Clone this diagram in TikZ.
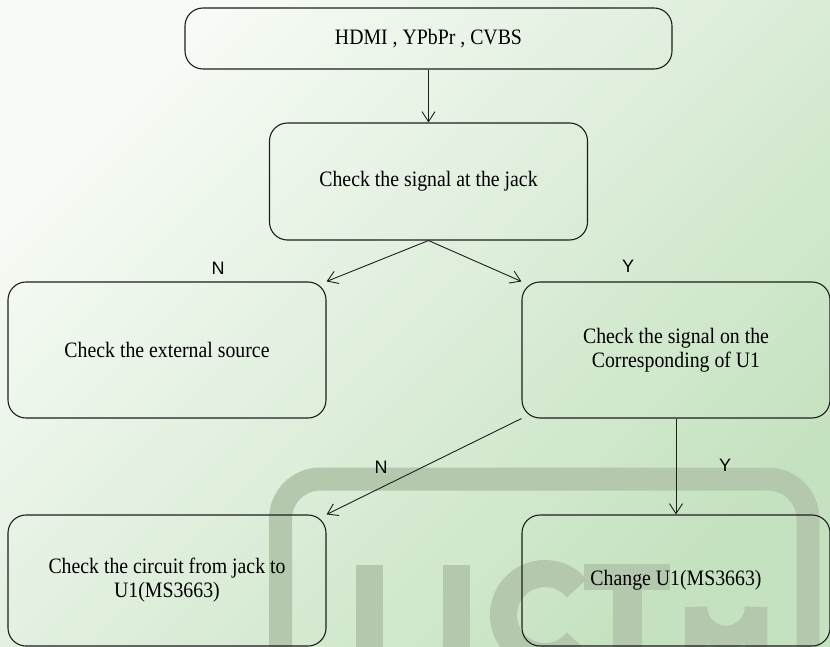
\documentclass[tikz,border=0pt]{standalone}
\usepackage{fontspec}
\setmainfont{Liberation Serif}[FakeStretch=0.9]
\newfontfamily\ynfont{Liberation Sans}
\usepackage{tikz}
\usetikzlibrary{arrows.meta}

\definecolor{bgtl}{RGB}{247,251,246}
\definecolor{bgbr}{RGB}{197,226,192}
\definecolor{wmark}{RGB}{180,200,174}
\definecolor{edge}{RGB}{30,30,30}

\tikzset{
  box/.style={draw=edge, line width=1.1pt, rounded corners=18pt, align=center,
    inner sep=0pt, font=\fontsize{22}{24}\selectfont},
  flow/.style={draw=edge, line width=0.9pt, -{Straight Barb[length=10pt,width=13pt]}},
  yn/.style={font=\ynfont\fontsize{18}{18}\selectfont},
  wm/.style={draw=wmark, line width=27pt},
}

\begin{document}
\begin{tikzpicture}[x=1pt,y=-1pt]
    \useasboundingbox (0,0) rectangle (830,647);
    \clip (0,0) rectangle (830,647);
    % background
    \shade[left color=bgtl, right color=bgbr, shading angle=45] (0,0) rectangle (830,647);
    % watermark
    \draw[wm, line width=23pt, rounded corners=40pt] (280.5,700) |- (808,479) -- (808,700);
    \draw[wm] (369.5,565) -- (369.5,700);
    \draw[wm] (456.5,565) -- (456.5,700);
    \draw[wm] ([shift={(40:41.5)}]545,615) arc[start angle=40, end angle=320, radius=41.5];
    \fill[wmark] (584,564) rectangle (670,590);
    \fill[wmark] (613,590) rectangle (642,660);
    \draw[wm, line width=22.5pt] (696,660) -- (696,607) arc[start angle=180, end angle=0, radius=30] -- (756,660);

    % boxes
    \node[box, minimum width=487pt, minimum height=61pt] (src) at (428.5,38.5) {HDMI , YPbPr , CVBS};
    \node[box, minimum width=318pt, minimum height=117pt] (chk) at (428.5,181.5) {Check the signal at the jack};
    \node[box, minimum width=318pt, minimum height=136pt] (ext) at (167,350) {Check the external source};
    \node[box, minimum width=308pt, minimum height=136pt] (corr) at (676,350) {Check the signal on the\\Corresponding of U1};
    \node[box, minimum width=318pt, minimum height=131pt] (circ) at (167,580.5) {Check the circuit from jack to\\U1(MS3663)};
    \node[box, minimum width=308pt, minimum height=131pt] (chg) at (676,580.5) {Change U1(MS3663)};

    % arrows
    \draw[flow] (src.south) -- (chk.north);
    \draw[flow] (chk.south) -- (ext.north east);
    \draw[flow] (chk.south) -- (corr.north west);
    \draw[flow] (corr.south west) -- (circ.north east);
    \draw[flow] (corr.south) -- (chg.north);

    % answers
    \node[yn] (n1) at (218,268) {N};
    \node[yn] (y1) at (628,266) {Y};
    \node[yn] (n2) at (381,467) {N};
    \node[yn] (y2) at (725,465) {Y};
\end{tikzpicture}
\end{document}
